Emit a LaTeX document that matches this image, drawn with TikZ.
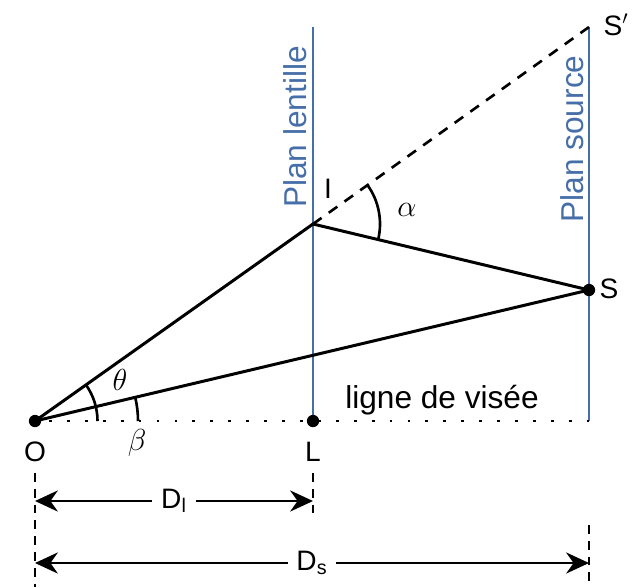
\documentclass[tikz,border=0pt]{standalone}
\usepackage{fontspec}
\setmainfont{Liberation Sans}
\usepackage{xcolor}
\usetikzlibrary{arrows.meta,calc}
\definecolor{planblue}{RGB}{70,110,168}
\tikzset{
  ray/.style={line width=1.7pt},
  plan/.style={planblue,line width=1.3pt},
  cote/.style={line width=0.9pt,dash pattern=on 5pt off 4pt},
  fleche/.style={line width=1.5pt,{Stealth[length=13pt,width=12pt]}-{Stealth[length=13pt,width=12pt]}},
  point/.style={circle,fill,inner sep=0pt,minimum size=7pt},
  lab/.style={font=\fontsize{16}{16}\selectfont},
  grand/.style={font=\fontsize{18}{18}\selectfont},
  grec/.style={font=\fontsize{19}{19}\selectfont}
}

\begin{document}
\begin{tikzpicture}
  \useasboundingbox (-0.7,-3.32) rectangle (12.1,8.42);
  % points
  \coordinate (O) at (0,0);
  \coordinate (L) at (5.56,0);
  \coordinate (I) at (5.56,3.94);
  \coordinate (S) at (11.08,2.62);
  \coordinate (Sp) at (11.08,7.88);
  \coordinate (Lh) at (5.56,7.88);
  \coordinate (Sv) at (11.08,0);
  % plans
  \draw[plan] (L) -- (Lh);
  \draw[plan] (Sv) -- (Sp);
  \node[grand,planblue,rotate=90] (pl) at (5.2,5.88){Plan lentille};
  \node[grand,planblue,rotate=90] (ps) at (10.74,5.64){Plan source};
  % ligne de visee
  \draw[line width=1.6pt,dash pattern=on 1.6pt off 8.6pt,dash phase=-8pt] (O) -- (Sv);
  \node[grand] (lv) at (8.14,0.42){ligne de visée};
  % rayons
  \draw[ray] (O) -- (I) -- (S);
  \draw[ray] (O) -- (S);
  \draw[line width=1.5pt,dash pattern=on 6pt off 5pt] (I) -- (Sp);
  % angles
  \draw[line width=1.5pt] ($(O)+(1.25,0)$) arc[start angle=0,end angle=35.3,radius=1.25];
  \draw[line width=1.5pt] ($(O)+(2.06,0)$) arc[start angle=0,end angle=13.3,radius=2.06];
  \draw[line width=1.5pt] ($(I)+(-13.4:1.34)$) arc[start angle=-13.4,end angle=35.3,radius=1.34];
  \node[grec] (th) at (1.7,0.82){$\theta$};
  \node[grec] (be) at (2.04,-0.44){$\beta$};
  \node[grec] (al) at (7.44,4.22){$\alpha$};
  \node[point] at (O){};
  \node[point] at (L){};
  \node[point] at (S){};
  % noms
  \node[lab] (nO) at (0,-0.62){O};
  \node[lab] (nL) at (5.56,-0.62){L};
  \node[lab] (nS) at (11.48,2.64){S};
  \node[lab] (nI) at (5.86,4.64){I};
  \node[lab] (nSp) at (11.62,7.92){S$'$};
  % cotes
  \coordinate (Oa) at (0,-1.04);
  \coordinate (Ob) at (0,-3.32);
  \coordinate (La) at (5.56,-1.04);
  \coordinate (Lb) at (5.56,-1.98);
  \coordinate (Sa) at (11.08,-2.08);
  \coordinate (Sb) at (11.08,-3.32);
  \draw[cote] (Oa) -- (Ob);
  \draw[cote] (La) -- (Lb);
  \draw[cote] (Sa) -- (Sb);
  \coordinate (dl1) at (0,-1.6);
  \coordinate (dl2) at (5.56,-1.6);
  \coordinate (ds1) at (0,-2.84);
  \coordinate (ds2) at (11.08,-2.84);
  \draw[fleche] (dl1) -- node[lab,fill=white,inner sep=5pt](Dl){D\textsubscript{l}} (dl2);
  \draw[fleche] (ds1) -- node[lab,fill=white,inner sep=5pt](Ds){D\textsubscript{s}} (ds2);
\end{tikzpicture}
\end{document}
